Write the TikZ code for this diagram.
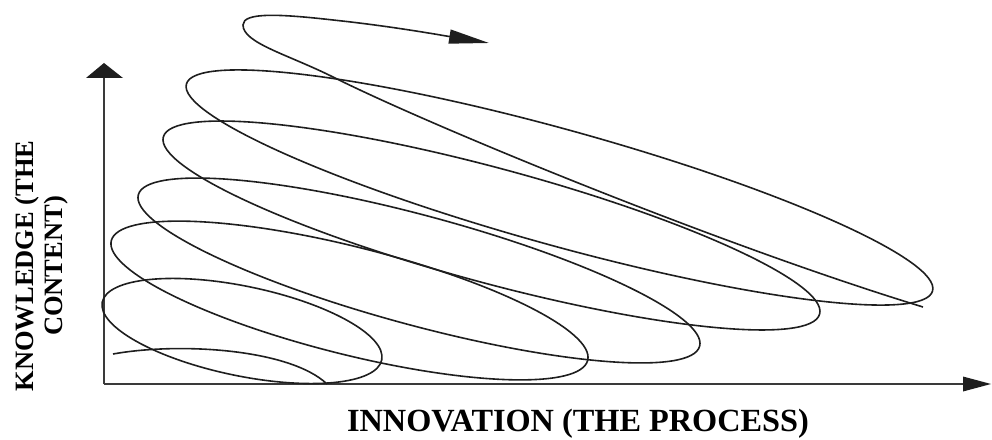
\documentclass[tikz,border=0pt]{standalone}
\usepackage{fontspec}
\setmainfont{Liberation Serif}
\usetikzlibrary{arrows.meta}
\definecolor{ink}{HTML}{1E1E1E}
\definecolor{axisgray}{HTML}{3A3A3A}
\begin{document}
\begin{tikzpicture}[x=1pt,y=1pt,
  loop/.style={draw=ink,line width=1.6pt},
  axisline/.style={draw=axisgray,line width=2pt},
  headfill/.style={fill=ink,draw=none},
  xlbl/.style={font=\fontsize{32.3}{35}\selectfont\bfseries,inner sep=0pt,text=black},
  ylbl/.style={font=\fontsize{26.5}{30}\selectfont\bfseries,inner sep=0pt,text=black}]
\useasboundingbox (0,0) rectangle (992,439);
% axes
\coordinate (O) at (104,55);
\coordinate (Ytop) at (104,364);
\coordinate (Xend) at (966,55);
\draw[axisline] (O) -- (Ytop);
\draw[axisline] (O) -- (Xend);
\fill[headfill] (86,361) -- (104,376) -- (123,361) -- cycle;
\fill[headfill] (963,62.5) -- (991,55) -- (963,47.5) -- cycle;
% start arc
\coordinate (S) at (113,85);
\coordinate (S1) at (327,55);
\draw[loop] (S) .. controls (180,97) and (290,90) .. (S1);
% loops (tilted ellipses)
\coordinate (c1) at (242,108);
\coordinate (c2) at (349.5,138.5);
\coordinate (c3) at (419,168.5);
\coordinate (c4) at (491.5,213.5);
\coordinate (c5) at (559.5,251.5);
\draw[loop,rotate around={-11.7:(c1)}] (c1) ellipse [x radius=142.7pt,y radius=44.8pt];
\draw[loop,rotate around={-14.1:(c2)}] (c2) ellipse [x radius=245.6pt,y radius=53.8pt];
\draw[loop,rotate around={-15.1:(c3)}] (c3) ellipse [x radius=290.7pt,y radius=54.9pt];
\draw[loop,rotate around={-15.1:(c4)}] (c4) ellipse [x radius=339.9pt,y radius=57.4pt];
\draw[loop,rotate around={-15.5:(c5)}] (c5) ellipse [x radius=387.2pt,y radius=57.9pt];
% last open turn with arrow
\coordinate (E0) at (923,132);
\coordinate (E1) at (333,362);
\coordinate (E2) at (243,414);
\coordinate (E3) at (333,419);
\coordinate (E4) at (489,396);
\draw[loop,-{Triangle[length=40pt,width=14pt]}]
  (E0) .. controls (723,193) and (433,312) .. (E1)
       .. controls (288,384.5) and (243,396) .. (E2)
       .. controls (243,427) and (280,425) .. (E3)
       .. controls (390,413) and (440,404) .. (E4);
% labels
\node[xlbl,anchor=base] (xl) at (578,7.5) {INNOVATION (THE PROCESS)};
\node[ylbl,anchor=base,rotate=90] (yl1) at (33,173) {KNOWLEDGE (THE};
\node[ylbl,anchor=base,rotate=90] (yl2) at (62,173) {CONTENT)};
\end{tikzpicture}
\end{document}
